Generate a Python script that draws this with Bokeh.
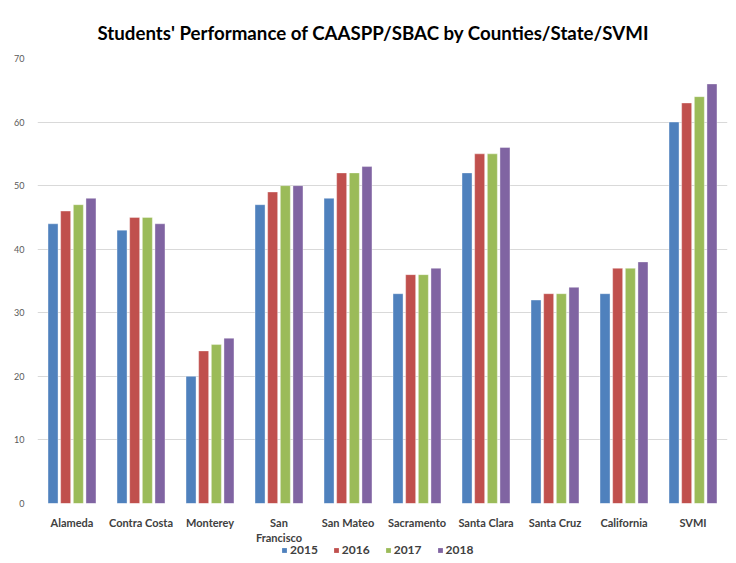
from bokeh.plotting import figure
from bokeh.layouts import column
from bokeh.core.properties import value
from bokeh.models import ColumnDataSource, FactorRange, Legend, LegendItem, SingleIntervalTicker
from bokeh.transform import dodge
from bokeh.embed import file_html
from bokeh.resources import INLINE

categories = ["Alameda", "Contra Costa", "Monterey", "San\nFrancisco", "San Mateo",
              "Sacramento", "Santa Clara", "Santa Cruz", "California", "SVMI"]
years = ["2015", "2016", "2017", "2018"]
v2015 = [44, 43, 20, 47, 48, 33, 52, 32, 33, 60]
v2016 = [46, 45, 24, 49, 52, 36, 55, 33, 37, 63]
v2017 = [47, 45, 25, 50, 52, 36, 55, 33, 37, 64]
v2018 = [48, 44, 26, 50, 53, 37, 56, 34, 38, 66]
colors = ["#4F81BD", "#C0504D", "#9BBB59", "#8064A2"]

source = ColumnDataSource(dict(cat=categories, y2015=v2015, y2016=v2016, y2017=v2017, y2018=v2018))
xr = FactorRange(*categories, range_padding=0)

p = figure(x_range=xr, y_range=(0, 70),
           width=736, height=509, output_backend="svg", toolbar_location=None,
           title="Students' Performance of CAASPP/SBAC by Counties/State/SVMI",
           min_border_left=37, min_border_right=9, min_border_top=58, min_border_bottom=6)

p.title.align = "left"
p.title.text_font = "Lato"
p.title.text_font_size = "18.7px"
p.title.text_font_style = "bold"
p.title.text_color = "#000000"
p.title.offset = 60
p.title.standoff = 29

offsets = [-0.275, -0.092, 0.092, 0.275]
keys = ["y2015", "y2016", "y2017", "y2018"]
for k, off, c in zip(keys, offsets, colors):
    p.vbar(x=dodge("cat", off, range=xr), top=k, width=0.145, source=source,
           fill_color=c, line_color="white", line_alpha=0.6, line_width=0.6)

p.xgrid.grid_line_color = None
p.ygrid.grid_line_color = "#d9d9d9"
p.ygrid.grid_line_width = 1
p.xaxis.visible = False
p.yaxis.ticker = SingleIntervalTicker(interval=10)
p.yaxis.axis_line_color = None
p.yaxis.major_tick_line_color = None
p.yaxis.minor_tick_line_color = None
p.yaxis.major_tick_out = 0
p.yaxis.major_tick_in = 0
p.yaxis.major_label_text_font = "Lato"
p.yaxis.major_label_text_font_size = "9px"
p.yaxis.major_label_text_color = "#595959"
p.yaxis.major_label_standoff = 9

p.outline_line_color = None
p.background_fill_color = "white"
p.border_fill_color = "white"

# category labels + legend strip
lg = figure(width=736, height=54, output_backend="svg", toolbar_location=None,
            x_range=xr, y_range=(0, 54), min_border_left=37, min_border_right=9,
            min_border_top=0, min_border_bottom=0)
lg.axis.visible = False
lg.grid.visible = False
lg.outline_line_color = None
lg.background_fill_color = "white"
lg.border_fill_color = "white"
lab = ColumnDataSource(dict(cat=categories, y=[48] * len(categories)))
lg.text(x="cat", y="y", text="cat", source=lab, text_align="center", text_baseline="top",
        text_font=value("Lato"), text_font_size=value("11px"), text_font_style="bold",
        text_color="#404040", text_line_height=1.2)
rs = [lg.vbar(x=[-5], top=[0], width=0.1, fill_color=c, line_color=None) for c in colors]
legend = Legend(items=[LegendItem(label=y, renderers=[r]) for y, r in zip(years, rs)],
                orientation="horizontal", location=(244, 6),
                label_text_font="Lato", label_text_font_size="12px", label_text_font_style="bold",
                label_text_color="#404040", glyph_width=6, glyph_height=6, spacing=15,
                label_standoff=3, padding=0, margin=0, border_line_color=None,
                background_fill_alpha=0, label_height=12)
lg.add_layout(legend)

layout = column(p, lg, spacing=0)
open("out.html", "w").write(file_html(layout, INLINE))
